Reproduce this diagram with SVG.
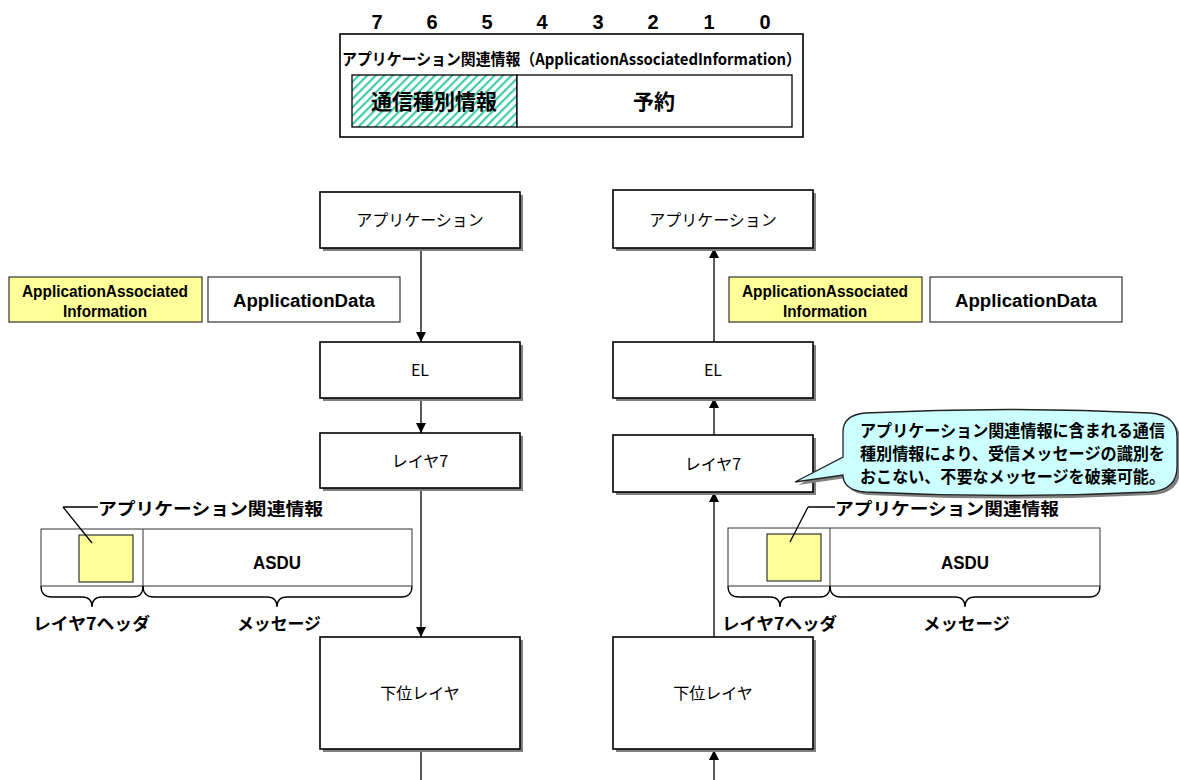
<svg xmlns="http://www.w3.org/2000/svg" width="1179" height="780" viewBox="0 0 1179 780">
<defs>
<pattern id="hatch" patternUnits="userSpaceOnUse" width="6" height="6" patternTransform="rotate(45)">
<rect width="6" height="6" fill="#ffffff"/>
<rect x="0" y="0" width="2.2" height="6" fill="#44ccaa"/>
</pattern>
<marker id="arr" viewBox="0 0 10 10" refX="10" refY="5" markerWidth="10" markerHeight="10" markerUnits="userSpaceOnUse" orient="auto">
<path d="M0,0 L10,5 L0,10 z" fill="#000"/>
</marker>
<style>
.box{fill:#fff;stroke:#000;stroke-width:1.6}
.shadow{fill:#808080}
.yel{fill:#ffff99;stroke:#333;stroke-width:1.2}
.plain{fill:#fff;stroke:#333;stroke-width:1.2}
.ln{stroke:#000;stroke-width:1.3;fill:none}
.lab{font-family:"Noto Sans CJK JP","Liberation Sans",sans-serif;font-size:16px;fill:#000}
.bold{font-family:"Liberation Sans","Noto Sans CJK JP",sans-serif;font-weight:bold;fill:#000}
.jb{font-family:"Noto Sans CJK JP",sans-serif;font-weight:bold;fill:#000}
</style>
</defs>
<rect width="1179" height="780" fill="#fff"/>

<g id="bitfield">
<g class="bold" font-size="20" text-anchor="middle">
<text x="377" y="29">7</text><text x="432" y="29">6</text><text x="487" y="29">5</text><text x="542" y="29">4</text><text x="598" y="29">3</text><text x="653" y="29">2</text><text x="709" y="29">1</text><text x="765" y="29">0</text>
</g>
<rect x="340" y="34" width="463" height="103" fill="#fff" stroke="#000" stroke-width="1.6"/>
<text class="jb" x="342" y="65" font-size="16" textLength="459" lengthAdjust="spacingAndGlyphs">アプリケーション関連情報（ApplicationAssociatedInformation）</text>
<rect x="352" y="75" width="165" height="52" fill="url(#hatch)" stroke="#000" stroke-width="1.3"/>
<rect x="517" y="75" width="275" height="52" fill="#fff" stroke="#000" stroke-width="1.3"/>
<text class="jb" x="434" y="109" font-size="21" text-anchor="middle">通信種別情報</text>
<text class="jb" x="654" y="109" font-size="21" text-anchor="middle">予約</text>
</g>

<g id="connectors">
<line class="ln" x1="421" y1="248" x2="421" y2="342" marker-end="url(#arr)"/>
<line class="ln" x1="421" y1="398" x2="421" y2="433" marker-end="url(#arr)"/>
<line class="ln" x1="421" y1="488" x2="421" y2="637" marker-end="url(#arr)"/>
<line class="ln" x1="421" y1="749" x2="421" y2="780"/>
<line class="ln" x1="714" y1="780" x2="714" y2="750" marker-end="url(#arr)"/>
<line class="ln" x1="714" y1="637" x2="714" y2="492" marker-end="url(#arr)"/>
<line class="ln" x1="714" y1="435" x2="714" y2="398" marker-end="url(#arr)"/>
<line class="ln" x1="714" y1="342" x2="714" y2="248" marker-end="url(#arr)"/>
</g>

<g id="left-app">
<rect class="shadow" x="323" y="195" width="200" height="56"/>
<rect class="box" x="320" y="192" width="200" height="56"/>
<text class="lab" x="420" y="226" text-anchor="middle">アプリケーション</text>
</g>
<g id="left-el">
<rect class="shadow" x="323" y="345" width="200" height="56"/>
<rect class="box" x="320" y="342" width="200" height="56"/>
<text class="lab" x="420" y="376" text-anchor="middle" font-size="17">EL</text>
</g>
<g id="left-l7">
<rect class="shadow" x="323" y="436" width="200" height="55"/>
<rect class="box" x="320" y="433" width="200" height="55"/>
<text class="lab" x="420" y="467" text-anchor="middle" font-size="17">レイヤ7</text>
</g>
<g id="left-lower">
<rect class="shadow" x="323" y="640" width="200" height="112"/>
<rect class="box" x="320" y="637" width="200" height="112"/>
<text class="lab" x="420" y="699" text-anchor="middle" font-size="18">下位レイヤ</text>
</g>

<g id="right-app">
<rect class="shadow" x="616" y="193" width="200" height="58"/>
<rect class="box" x="613" y="190" width="200" height="58"/>
<text class="lab" x="713" y="226" text-anchor="middle">アプリケーション</text>
</g>
<g id="right-el">
<rect class="shadow" x="616" y="345" width="200" height="56"/>
<rect class="box" x="613" y="342" width="200" height="56"/>
<text class="lab" x="713" y="376" text-anchor="middle" font-size="17">EL</text>
</g>
<g id="right-l7">
<rect class="shadow" x="616" y="438" width="200" height="57"/>
<rect class="box" x="613" y="435" width="200" height="57"/>
<text class="lab" x="713" y="470" text-anchor="middle" font-size="17">レイヤ7</text>
</g>
<g id="right-lower">
<rect class="shadow" x="616" y="640" width="200" height="112"/>
<rect class="box" x="613" y="637" width="200" height="112"/>
<text class="lab" x="713" y="699" text-anchor="middle" font-size="18">下位レイヤ</text>
</g>

<g id="left-data">
<rect class="yel" x="9" y="277" width="193" height="45"/>
<text class="bold" x="105" y="297" font-size="16" text-anchor="middle" textLength="166" lengthAdjust="spacingAndGlyphs">ApplicationAssociated</text>
<text class="bold" x="105" y="317" font-size="16" text-anchor="middle" textLength="84" lengthAdjust="spacingAndGlyphs">Information</text>
<rect class="plain" x="208" y="277" width="192" height="45"/>
<text class="bold" x="304" y="307" font-size="18" text-anchor="middle" textLength="142" lengthAdjust="spacingAndGlyphs">ApplicationData</text>
</g>
<g id="right-data">
<rect class="yel" x="729" y="277" width="193" height="45"/>
<text class="bold" x="825" y="297" font-size="16" text-anchor="middle" textLength="166" lengthAdjust="spacingAndGlyphs">ApplicationAssociated</text>
<text class="bold" x="825" y="317" font-size="16" text-anchor="middle" textLength="84" lengthAdjust="spacingAndGlyphs">Information</text>
<rect class="plain" x="930" y="277" width="192" height="45"/>
<text class="bold" x="1026" y="307" font-size="18" text-anchor="middle" textLength="142" lengthAdjust="spacingAndGlyphs">ApplicationData</text>
</g>

<g id="left-frame">
<rect x="41" y="529" width="371" height="57" fill="#fff" stroke="#333" stroke-width="1"/>
<line x1="143" y1="529" x2="143" y2="586" stroke="#333" stroke-width="1"/>
<rect class="yel" x="79" y="535" width="54" height="47"/>
<text class="bold" x="277" y="569" font-size="18" text-anchor="middle" textLength="48" lengthAdjust="spacingAndGlyphs">ASDU</text>
<path class="ln" d="M63,507 L98,507 M63,507 L92,543" stroke-width="1"/>
<text class="jb" x="98" y="515" font-size="17" textLength="225" lengthAdjust="spacingAndGlyphs">アプリケーション関連情報</text>
<path class="ln" stroke-width="1" d="M41,586 Q41,597 52,597 L82,597 Q92,597 92,607 Q92,597 102,597 L133,597 Q143,597 143,586"/>
<path class="ln" stroke-width="1" d="M143,586 Q143,597 154,597 L267,597 Q277,597 277,607 Q277,597 287,597 L401,597 Q412,597 412,586"/>
<text class="jb" x="33" y="630" font-size="17" textLength="117" lengthAdjust="spacingAndGlyphs">レイヤ7ヘッダ</text>
<text class="jb" x="237" y="630" font-size="17" textLength="84" lengthAdjust="spacingAndGlyphs">メッセージ</text>
</g>
<g id="right-frame">
<rect x="728" y="528" width="372" height="58" fill="#fff" stroke="#333" stroke-width="1"/>
<line x1="830" y1="528" x2="830" y2="586" stroke="#333" stroke-width="1"/>
<rect class="yel" x="767" y="534" width="54" height="47"/>
<text class="bold" x="965" y="569" font-size="18" text-anchor="middle" textLength="48" lengthAdjust="spacingAndGlyphs">ASDU</text>
<path class="ln" d="M808,507 L835,507 M808,507 L790,542" stroke-width="1"/>
<text class="jb" x="835" y="515" font-size="17" textLength="224" lengthAdjust="spacingAndGlyphs">アプリケーション関連情報</text>
<path class="ln" stroke-width="1" d="M728,586 Q728,597 739,597 L770,597 Q780,597 780,607 Q780,597 790,597 L820,597 Q830,597 830,586"/>
<path class="ln" stroke-width="1" d="M830,586 Q830,597 841,597 L955,597 Q965,597 965,607 Q965,597 975,597 L1089,597 Q1100,597 1100,586"/>
<text class="jb" x="722" y="630" font-size="17" textLength="115" lengthAdjust="spacingAndGlyphs">レイヤ7ヘッダ</text>
<text class="jb" x="923" y="630" font-size="17" textLength="87" lengthAdjust="spacingAndGlyphs">メッセージ</text>
</g>

<g id="callout">
<path d="M868,416 Q1010,409 1152,416 Q1180,418 1180,440 L1180,470 Q1180,493 1152,495 Q1010,502 868,495 Q846,493 846,478 L798,485 L846,460 L846,435 Q846,418 868,416 Z" fill="#808080"/>
<path d="M865,413 Q1008,406 1150,413 Q1177,415 1177,437 L1177,467 Q1177,490 1150,492 Q1008,499 865,492 Q843,490 843,475 L795,482 L843,457 L843,432 Q843,415 865,413 Z" fill="#ccffff" stroke="#222" stroke-width="1.3"/>
<g class="jb" font-size="16.5">
<text x="860" y="437" textLength="305" lengthAdjust="spacingAndGlyphs">アプリケーション関連情報に含まれる通信</text>
<text x="860" y="460" textLength="305" lengthAdjust="spacingAndGlyphs">種別情報により、受信メッセージの識別を</text>
<text x="860" y="483" textLength="305" lengthAdjust="spacingAndGlyphs">おこない、不要なメッセージを破棄可能。</text>
</g>
</g>
</svg>
